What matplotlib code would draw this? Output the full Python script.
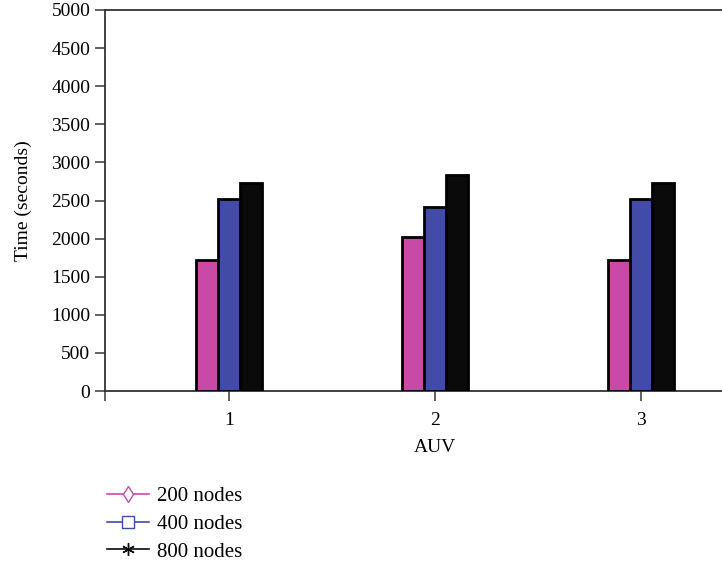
import matplotlib.pyplot as plt
from matplotlib.lines import Line2D
import numpy as np

plt.rcParams['font.family'] = ['Liberation Serif', 'DejaVu Serif']
plt.rcParams['font.size'] = 14

# data
auv = [1, 2, 3]
series = ['200 nodes', '400 nodes', '800 nodes']
t200 = [1720, 2020, 1720]
t400 = [2520, 2420, 2520]
t800 = [2730, 2840, 2730]

colors = ['#c84aa6', '#424ca8', '#0a0a0a']
markers = ['d', 's', (6, 2, 0)]

fig = plt.figure(figsize=(7.22, 5.66), dpi=100)
ax = fig.add_axes([105/722, 175/566, 617/722, 381/566])

w = 0.108
x = np.array(auv)
for i, vals in enumerate([t200, t400, t800]):
    ax.bar(x + (i - 1) * w, vals, w, color=colors[i], edgecolor='black',
           linewidth=2, zorder=3)

ax.set_xlim(0.398, 3.393)
ax.set_ylim(0, 5000)
ax.set_xticks([0.398, 1, 2, 3])
ax.set_xticklabels(['', '1', '2', '3'])
ax.set_yticks(np.arange(0, 5001, 500))
ax.spines['right'].set_visible(False)
for s in ['left', 'bottom', 'top']:
    ax.spines[s].set_linewidth(1.3)
    ax.spines[s].set_color('#333333')
ax.tick_params(direction='out', length=7, width=1.3, color='#555555')
ax.tick_params(axis='x', pad=8)

ax.set_ylabel('Time (seconds)', labelpad=14)
ax.set_xlabel('AUV')
ax.xaxis.set_label_coords((435 - 105) / 617, -0.125)

handles = [Line2D([], [], color=colors[i], marker=markers[i], markersize=8 if i < 2 else 9,
                  markerfacecolor='white' if i < 2 else colors[i],
                  markeredgecolor=colors[i], markeredgewidth=1.0, linewidth=1.2)
           for i in range(3)]
fig.legend(handles, series, loc='upper left', bbox_to_anchor=(99/722, 1 - 478/566),
           frameon=False, handlelength=2.0, labelspacing=0.4, handletextpad=0.4,
           borderaxespad=0, fontsize=15)

fig.savefig('out.png', dpi=100)
